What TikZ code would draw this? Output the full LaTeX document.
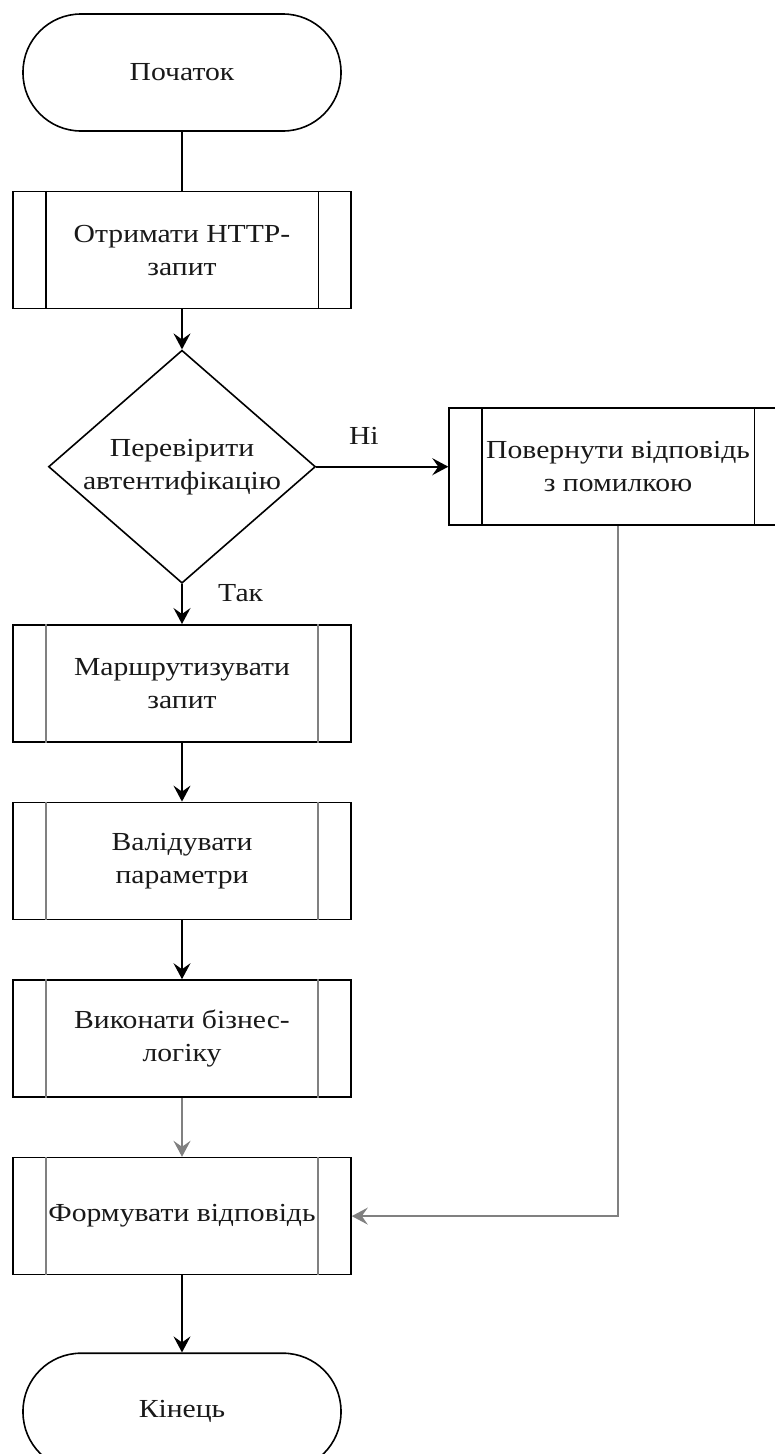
\documentclass[tikz,border=0pt]{standalone}
\usepackage{fontspec}
\setmainfont{Liberation Serif}[FakeStretch=1.14]
\usetikzlibrary{positioning,shapes.geometric,arrows.meta}

\tikzset{
	term/.style={draw, rectangle, rounded corners=58pt, minimum width=318pt, minimum height=117pt, fill=white},
	procbox/.style={draw, rectangle, minimum width=338pt, minimum height=117pt, fill=white},
	decision/.style={draw, diamond, aspect=1.15, minimum width=267pt, minimum height=233pt, inner sep=0pt, fill=white},
	soft/.style={draw=black!50, line width=1.9pt}
}

\begin{document}
\begin{tikzpicture}[x=1pt, y=1pt, line width=1.6pt, node distance=59pt,
	every node/.style={align=center, text=black!90, font=\fontsize{26}{33}\selectfont},
	>={Stealth[length=16pt, width=17pt, inset=6pt]}]
	\useasboundingbox (0,0) rectangle (775,-1454);
	\node[term] (start) at (182,-72.5) {Початок};
	\node[procbox, below=of start] (get) {Отримати HTTP-\\запит};
	\node[decision, below=40pt of get] (auth) {Перевірити\\автентифікацію};
	\node[procbox, below=40pt of auth] (route) {Маршрутизувати\\запит};
	\node[procbox, below=of route] (valid) {Валідувати\\параметри};
	\node[procbox, below=of valid] (exec) {Виконати бізнес-\\логіку};
	\node[procbox, below=of exec] (form) {Формувати відповідь};
	\node[term, below=77pt of form] (end) {Кінець};
	\node[procbox, right=132pt of auth] (err) {Повернути відповідь\\з помилкою};

	% side bars of the process boxes
	\foreach \n in {get, err}
		\draw ([xshift=33.5pt]\n.north west) -- ([xshift=33.5pt]\n.south west)
			([xshift=-33.5pt]\n.north east) -- ([xshift=-33.5pt]\n.south east);
	\foreach \n in {route, valid, exec, form}
		\draw[soft] ([xshift=33.5pt]\n.north west) -- ([xshift=33.5pt]\n.south west)
			([xshift=-33.5pt]\n.north east) -- ([xshift=-33.5pt]\n.south east);

	\draw (start) -- (get);
	\draw[->] (get) -- (auth);
	\draw[->] (auth) -- node[pos=0.36, above=18pt] (no) {Ні} (err);
	\draw[->] (auth) -- node[pos=0.22, right=32pt] (yes) {Так} (route);
	\draw[->] (route) -- (valid);
	\draw[->] (valid) -- (exec);
	\draw[soft, ->] (exec) -- (form);
	\draw[soft, ->] (err.south) |- (form.east);
	\draw[->] (form) -- (end);
\end{tikzpicture}
\end{document}
